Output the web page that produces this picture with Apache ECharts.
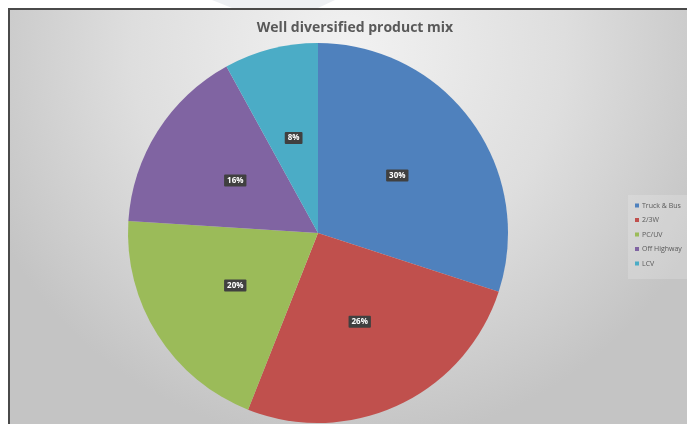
<!DOCTYPE html>
<html>
<head>
<meta charset="utf-8">
<style>
  html, body { margin: 0; padding: 0; background: #ffffff; }
  #chart { width: 687px; height: 424px; }
</style>
<script src="https://cdn.jsdelivr.net/npm/echarts@6/dist/echarts.min.js"></script>
</head>
<body>
<div id="chart"></div>
<script>
// Product mix shares (percent)
const categories = ['Truck & Bus', '2/3W', 'PC/UV', 'Off Highway', 'LCV'];
const shares = [30, 26, 20, 16, 8];
const colors = ['#4f81bd', '#c0504d', '#9bbb59', '#8064a2', '#4bacc6'];
const titleText = 'Well diversified product mix';

const chart = echarts.init(document.getElementById('chart'), null, { renderer: 'canvas' });

chart.setOption({
  backgroundColor: '#ffffff',
  animation: false,
  title: {
    text: titleText,
    left: 350,
    textAlign: 'center',
    top: 16,
    textStyle: { fontFamily: 'Open Sans', fontWeight: 'bold', fontSize: 14, color: '#595959' }
  },
  graphic: [
    // faint slide decoration above the frame
    { type: 'polygon', z: -10, shape: { points: [[212, 0], [335, 0], [318, 8], [232, 8]] },
      style: { fill: '#eef0f3' } },
    // chart area with radial shading
    { type: 'rect', z: -10, shape: { x: 9, y: 9, width: 678, height: 415 },
      style: { fill: new echarts.graphic.RadialGradient(0.5, 0.1, 0.95, [
        { offset: 0, color: '#f2f2f2' },
        { offset: 0.55, color: '#dedede' },
        { offset: 1, color: '#c4c4c4' }
      ], false) } },
    // frame lines
    { type: 'line', z: -9, shape: { x1: 8, y1: 9, x2: 687, y2: 9 }, style: { stroke: '#4a4a4a', lineWidth: 2 } },
    { type: 'line', z: -9, shape: { x1: 9, y1: 8, x2: 9, y2: 424 }, style: { stroke: '#4a4a4a', lineWidth: 2 } },
    // legend panel
    { type: 'rect', z: -8, shape: { x: 628, y: 195, width: 59, height: 84 },
      style: { fill: 'rgba(255,255,255,0.18)' } }
  ],
  legend: {
    orient: 'vertical',
    left: 630,
    top: 197,
    itemWidth: 4,
    itemHeight: 4,
    itemGap: 7.5,
    icon: 'rect',
    data: categories,
    textStyle: { fontFamily: 'Open Sans', fontSize: 7, color: '#595959', padding: [0, 0, 0, -2] }
  },
  series: [{
    type: 'pie',
    center: [318, 233],
    radius: [0, 190],
    startAngle: 90,
    clockwise: true,
    silent: true,
    itemStyle: { borderWidth: 0 },
    label: {
      show: true,
      position: 'inner',
      formatter: '{c}%',
      color: '#ffffff',
      fontFamily: 'Open Sans',
      fontWeight: 'bold',
      fontSize: 8,
      backgroundColor: '#404040',
      padding: [2, 3],
      borderRadius: 1
    },
    labelLine: { show: false },
    data: categories.map((name, i) => ({ name, value: shares[i], itemStyle: { color: colors[i] } }))
  }]
});
</script>
</body>
</html>
